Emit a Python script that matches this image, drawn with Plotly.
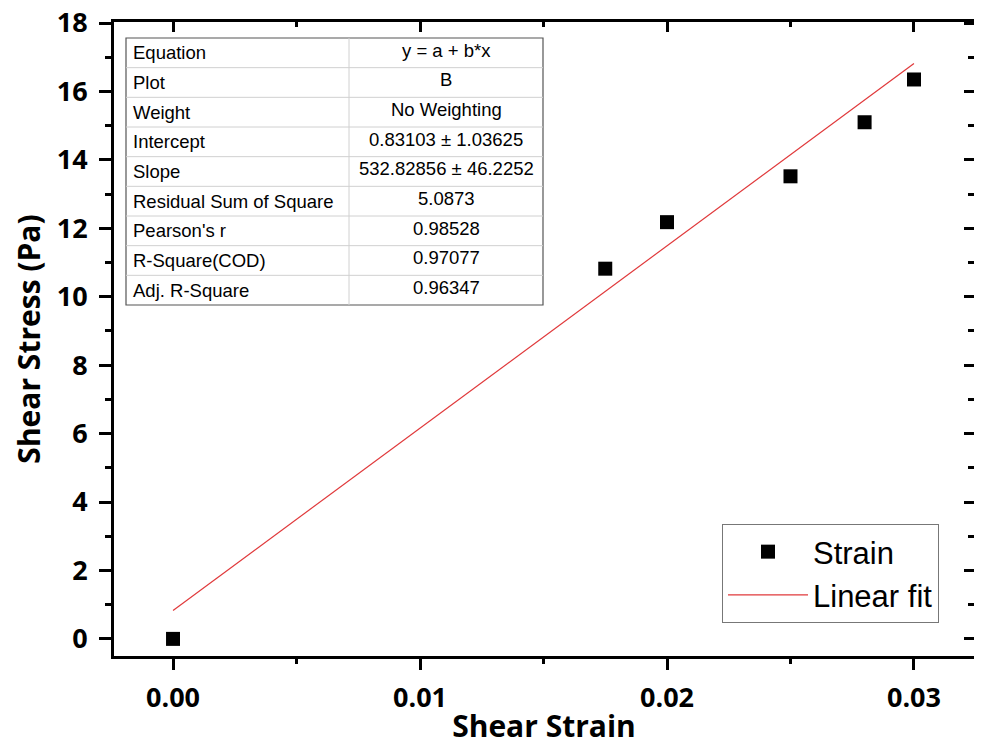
import plotly.graph_objects as go

# ---- data ----
strain = [0.0, 0.0175, 0.020, 0.025, 0.028, 0.030]
stress = [0.0, 10.82, 12.18, 13.52, 15.10, 16.35]

fit_intercept = 0.83103
fit_slope = 532.82856
fit_x = [0.0, 0.030]

table_labels = ["Equation", "Plot", "Weight", "Intercept", "Slope",
                "Residual Sum of Square", "Pearson's r", "R-Square(COD)", "Adj. R-Square"]
table_values = ["y = a + b*x", "B", "No Weighting", "0.83103 ± 1.03625",
                "532.82856 ± 46.2252", "5.0873", "0.98528", "0.97077", "0.96347"]

x_ticks = [0.0, 0.01, 0.02, 0.03]
x_ticklabels = ["0.00", "0.01", "0.02", "0.03"]
y_ticks = [0, 2, 4, 6, 8, 10, 12, 14, 16, 18]

fit_y = [fit_intercept + fit_slope * v for v in fit_x]

# ---- layout geometry (pixels, in the reference picture) ----
W, H = 982, 746
OFF = 8  # page body margin
L, R, T, B = 114, 974, 22, 656
XR = [-0.00239, 0.03243]
YR = [-0.5, 18.03]

def px(xp):
    return (xp - L) / (R - L)

def py(yp):
    return (B - yp) / (B - T)

TICKFONT = dict(family="Open Sans", size=27, color="black", weight="bold")
TITLEFONT = dict(family="Open Sans", size=30, color="black", weight="bold")

fig = go.Figure()

fig.add_trace(go.Scatter(
    x=fit_x, y=fit_y, mode="lines", name="Linear fit",
    line=dict(color="#e0393b", width=1.2),
))
fig.add_trace(go.Scatter(
    x=strain, y=stress, mode="markers", name="Strain",
    marker=dict(symbol="square", size=14, color="black", line=dict(width=0)),
))
# invisible trace for mirror axes
fig.add_trace(go.Scatter(x=[XR[0]], y=[YR[0]], xaxis="x2", yaxis="y2",
                         mode="markers", marker=dict(opacity=0),
                         showlegend=False, hoverinfo="skip"))

shapes = []
annotations = []

# ---- fit table ----
tx0, tx1, tmid = 126, 543, 349
ty0, ty1 = 38, 305
n = len(table_labels)
rh = (ty1 - ty0) / n
shapes.append(dict(type="rect", xref="paper", yref="paper",
                   x0=px(tx0), x1=px(tx1), y0=py(ty1), y1=py(ty0),
                   line=dict(color="#555555", width=1.2), fillcolor="white", layer="above"))
for i in range(1, n):
    yy = py(ty0 + i * rh)
    shapes.append(dict(type="line", xref="paper", yref="paper",
                       x0=px(tx0), x1=px(tx1), y0=yy, y1=yy,
                       line=dict(color="#d0d0d0", width=1), layer="above"))
shapes.append(dict(type="line", xref="paper", yref="paper",
                   x0=px(tmid), x1=px(tmid), y0=py(ty1), y1=py(ty0),
                   line=dict(color="#d0d0d0", width=1), layer="above"))
for i, (lab, val) in enumerate(zip(table_labels, table_values)):
    yc = py(ty0 + (i + 0.5) * rh)
    annotations.append(dict(xref="paper", yref="paper", x=px(tx0 + 5), y=yc,
                            text=lab, showarrow=False, xanchor="left", yanchor="middle",
                            font=dict(family="Liberation Sans", size=18.5, color="black")))
    annotations.append(dict(xref="paper", yref="paper", x=px((tmid + tx1) / 2), y=yc + 0.004,
                            text=val, showarrow=False, xanchor="center", yanchor="middle",
                            font=dict(family="Liberation Sans", size=18.5, color="black")))

fig.update_layout(
    width=W - OFF, height=H - OFF,
    margin=dict(l=L - OFF, r=W - R, t=T - OFF, b=H - B),
    paper_bgcolor="white", plot_bgcolor="white",
    showlegend=True,
    legend=dict(
        x=px(722), y=py(524), xanchor="left", yanchor="top",
        bgcolor="white", bordercolor="#777777", borderwidth=1,
        font=dict(family="Liberation Sans", size=31, color="black"),
        traceorder="reversed", itemwidth=80, tracegroupgap=0,
    ),
    xaxis=dict(
        range=XR, tickvals=x_ticks, ticktext=x_ticklabels, automargin=False,
        showline=True, linecolor="black", linewidth=3, ticklabeloverflow="allow",
        ticks="outside", ticklen=11, tickwidth=2.5, tickcolor="black", ticklabelstandoff=5,
        minor=dict(ticks="outside", ticklen=5, tickwidth=2.5, tickcolor="black", dtick=0.005, tick0=0),
        showgrid=False, zeroline=False, tickfont=TICKFONT,
        title=dict(text="Shear Strain", font=TITLEFONT, standoff=6),
    ),
    yaxis=dict(
        range=YR, tickvals=y_ticks, automargin=False,
        showline=True, linecolor="black", linewidth=3, ticklabeloverflow="allow",
        ticks="outside", ticklen=12, tickwidth=2.5, tickcolor="black", ticklabelstandoff=6,
        minor=dict(ticks="outside", ticklen=6, tickwidth=2.5, tickcolor="black", dtick=1, tick0=0),
        showgrid=False, zeroline=False, tickfont=TICKFONT,
        title=dict(text="Shear Stress (Pa)", font=TITLEFONT, standoff=10),
    ),
    xaxis2=dict(
        range=XR, overlaying="x", side="top", tickvals=x_ticks, showticklabels=False,
        automargin=False,
        showline=True, linecolor="black", linewidth=3,
        ticks="inside", ticklen=10, tickwidth=2.5, tickcolor="black",
        minor=dict(ticks="inside", ticklen=5, tickwidth=2.5, tickcolor="black", dtick=0.005, tick0=0),
        showgrid=False, zeroline=False,
    ),
    yaxis2=dict(
        range=YR, overlaying="y", side="right", tickvals=y_ticks, showticklabels=False,
        automargin=False,
        showline=True, linecolor="black", linewidth=3,
        ticks="inside", ticklen=10, tickwidth=2.5, tickcolor="black",
        minor=dict(ticks="inside", ticklen=6, tickwidth=2.5, tickcolor="black", dtick=1, tick0=0),
        showgrid=False, zeroline=False,
    ),
    shapes=shapes,
    annotations=annotations,
)

fig.write_html("out.html")
